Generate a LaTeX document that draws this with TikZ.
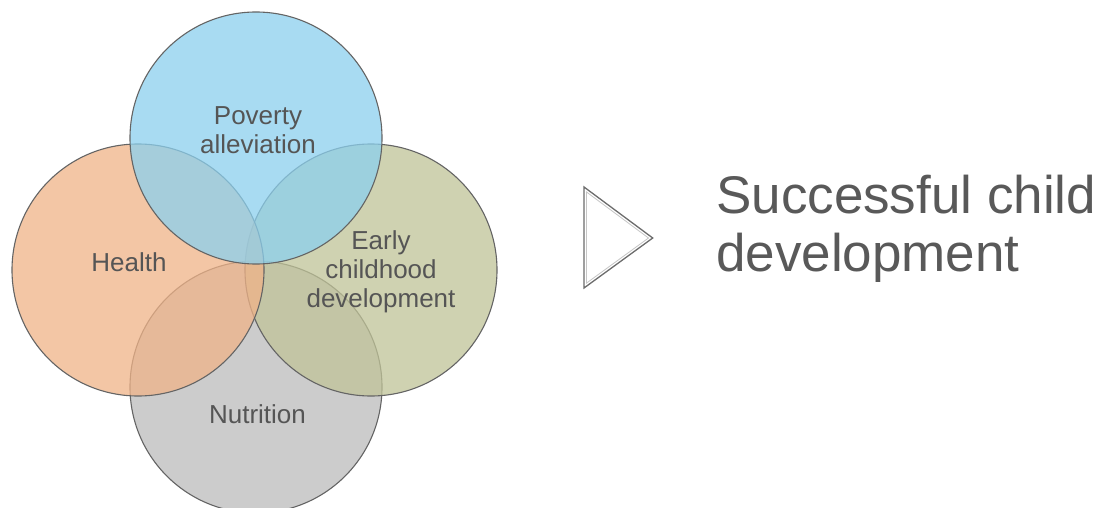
\documentclass[tikz,border=0pt]{standalone}
\usepackage{fontspec}
\setmainfont{Liberation Sans}
\definecolor{cblue}{RGB}{139,208,238}
\definecolor{corange}{RGB}{240,179,136}
\definecolor{colive}{RGB}{192,195,152}
\definecolor{cgray}{RGB}{187,187,187}
\definecolor{cedge}{RGB}{100,100,100}
\definecolor{ctext}{RGB}{85,85,85}
\definecolor{cbig}{RGB}{89,89,89}
\tikzset{
  venn/.style={circle, minimum size=252pt, inner sep=0pt, draw=cedge, line width=1.1pt, fill opacity=0.75},
  venntext/.style={text=ctext, align=center, inner sep=0pt, font=\fontsize{26}{29}\selectfont},
  bigtext/.style={text=cbig, align=left, inner sep=0pt, font=\fontsize{53}{58}\selectfont},
}
\begin{document}
\begin{tikzpicture}[x=1pt,y=-1pt]
\useasboundingbox (0,0) rectangle (1102,508);
\fill[white] (0,0) rectangle (1102,508);
% circles (bottom first, top last)
\node[venn, fill=cgray]   (nut) at (256,387) {};
\node[venn, fill=colive]  (ecd) at (371,270) {};
\node[venn, fill=corange] (hea) at (138,270) {};
\node[venn, fill=cblue]   (pov) at (256,138) {};
% labels
\node[venntext] (tpov) at (258,130) {Poverty\\alleviation};
\node[venntext, anchor=base] (thea) at (129,271) {Health};
\node[venntext] (tecd) at (381,272) {Early\\childhood\\development};
\node[venntext, anchor=base] (tnut) at (257.5,423) {Nutrition};
% arrow triangle
\draw[draw=gray!85!black, line width=1.3pt, line join=miter] (584,187) -- (652.7,238) -- (584,288) -- cycle;
\draw[draw=gray!45, line width=0.8pt, line join=miter] (586.5,192) -- (648.5,238) -- (586.5,283.1) -- cycle;
% result text
\node[bigtext, anchor=north west] (res) at (716,175) {Successful child\\development};
\end{tikzpicture}
\end{document}
